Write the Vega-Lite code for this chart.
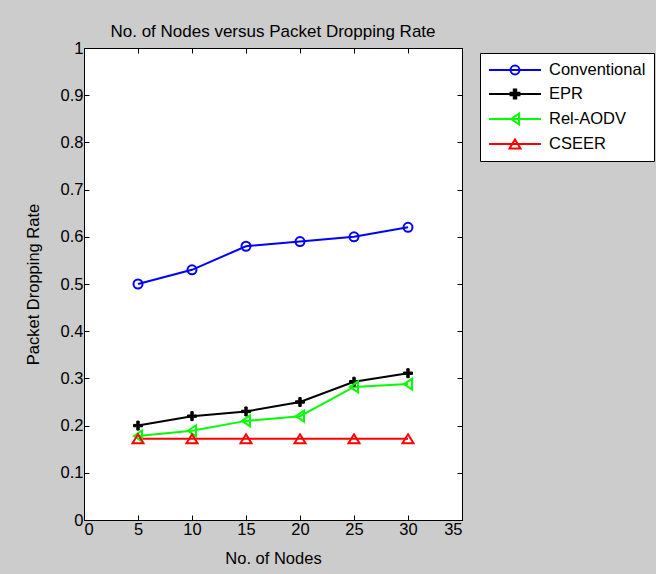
{
  "$schema": "https://vega.github.io/schema/vega-lite/v6.json",
  "width": 378,
  "height": 472,
  "autosize": {"type": "none"},
  "padding": {"left": 84, "top": 48, "right": 194, "bottom": 54},
  "background": "#cccccc",
  "title": {"text": "No. of Nodes versus Packet Dropping Rate", "fontSize": 17, "fontWeight": "normal", "font": "Liberation Sans", "color": "#000000", "offset": -1, "anchor": "middle"},
  "config": {
    "view": {"fill": "white", "stroke": "black", "strokeWidth": 1},
    "font": "Liberation Sans",
    "axis": {"labelFontSize": 16.5, "titleFontSize": 16.5, "titleFontWeight": "normal", "labelColor": "#000000", "titleColor": "#000000", "tickColor": "#000000", "grid": false, "domain": false, "tickSize": -5, "labelFont": "Liberation Sans", "titleFont": "Liberation Sans"}
  },
  "data": {"values": [
    {"n": 5, "series": "Conventional", "rate": 0.50},
    {"n": 10, "series": "Conventional", "rate": 0.53},
    {"n": 15, "series": "Conventional", "rate": 0.58},
    {"n": 20, "series": "Conventional", "rate": 0.59},
    {"n": 25, "series": "Conventional", "rate": 0.60},
    {"n": 30, "series": "Conventional", "rate": 0.62},
    {"n": 5, "series": "EPR", "rate": 0.20},
    {"n": 10, "series": "EPR", "rate": 0.22},
    {"n": 15, "series": "EPR", "rate": 0.23},
    {"n": 20, "series": "EPR", "rate": 0.25},
    {"n": 25, "series": "EPR", "rate": 0.293},
    {"n": 30, "series": "EPR", "rate": 0.311},
    {"n": 5, "series": "Rel-AODV", "rate": 0.178},
    {"n": 10, "series": "Rel-AODV", "rate": 0.189},
    {"n": 15, "series": "Rel-AODV", "rate": 0.21},
    {"n": 20, "series": "Rel-AODV", "rate": 0.22},
    {"n": 25, "series": "Rel-AODV", "rate": 0.282},
    {"n": 30, "series": "Rel-AODV", "rate": 0.288},
    {"n": 5, "series": "CSEER", "rate": 0.172},
    {"n": 10, "series": "CSEER", "rate": 0.172},
    {"n": 15, "series": "CSEER", "rate": 0.172},
    {"n": 20, "series": "CSEER", "rate": 0.172},
    {"n": 25, "series": "CSEER", "rate": 0.172},
    {"n": 30, "series": "CSEER", "rate": 0.172}
  ]},
  "layer": [
    {
      "mark": {"type": "line", "strokeWidth": 2},
      "encoding": {
        "x": {"field": "n", "type": "quantitative", "scale": {"domain": [0, 35], "nice": false, "zero": false}, "axis": {"orient": "bottom", "values": [0, 5, 10, 15, 20, 25, 30, 35], "title": "No. of Nodes", "labelPadding": 6, "titlePadding": 13}},
        "y": {"field": "rate", "type": "quantitative", "scale": {"domain": [0, 1], "nice": false, "zero": false}, "axis": {"orient": "left", "values": [0, 0.1, 0.2, 0.3, 0.4, 0.5, 0.6, 0.7, 0.8, 0.9, 1], "format": "~g", "title": "Packet Dropping Rate", "labelPadding": 6, "titlePadding": 19}},
        "color": {
          "field": "series", "type": "nominal",
          "scale": {"domain": ["Conventional", "EPR", "Rel-AODV", "CSEER"], "range": ["#0000ff", "#000000", "#00ff00", "#ff0000"]},
          "legend": {
            "title": null, "orient": "none", "legendX": 396, "legendY": 5,
            "fillColor": "white", "strokeColor": "black", "padding": 8,
            "symbolSize": 256, "symbolStrokeWidth": 2, "symbolOffset": 18,
            "labelFontSize": 16.5, "labelFont": "Liberation Sans", "labelColor": "#000000", "labelOffset": 25, "rowPadding": 6,
            "encode": {"symbols": {"update": {
              "shape": {"signal": "datum.value === 'Conventional' ? 'M-3.25,0H3.25M-0.56,0A0.56,0.56 0 1,0 0.56,0A0.56,0.56 0 1,0 -0.56,0Z' : datum.value === 'EPR' ? 'M-3.25,0H3.25M-0.56,-0.15H-0.15V-0.56H0.15V-0.15H0.56V0.15H0.15V0.56H-0.15V0.15H-0.56Z' : datum.value === 'Rel-AODV' ? 'M-3.25,0H3.25M-0.5,0L0.5,-0.68L0.5,0.68Z' : 'M-3.25,0H3.25M0,-0.56L0.68,0.56L-0.68,0.56Z'"},
              "fill": {"signal": "datum.value === 'EPR' ? 'black' : 'transparent'"},
              "stroke": {"scale": "color", "field": "value"},
              "strokeWidth": {"value": 2},
              "opacity": {"value": 1}
            }}}
          }
        }
      }
    },
    {
      "transform": [{"filter": "datum.series === 'Conventional'"}],
      "mark": {"type": "point", "size": 100, "strokeWidth": 2, "opacity": 1, "filled": false, "color": "#0000ff", "shape": "M-0.9,0A0.9,0.9 0 1,0 0.9,0A0.9,0.9 0 1,0 -0.9,0Z"},
      "encoding": {
        "x": {"field": "n", "type": "quantitative", "axis": {"orient": "top", "values": [0, 5, 10, 15, 20, 25, 30, 35], "labels": false, "title": null}},
        "y": {"field": "rate", "type": "quantitative", "axis": {"orient": "right", "values": [0, 0.1, 0.2, 0.3, 0.4, 0.5, 0.6, 0.7, 0.8, 0.9, 1], "labels": false, "title": null}}
      }
    },
    {
      "transform": [{"filter": "datum.series === 'EPR'"}],
      "mark": {"type": "point", "size": 100, "strokeWidth": 1, "opacity": 1, "filled": true, "color": "#000000", "stroke": "#000000", "shape": "M-0.9,-0.24H-0.24V-0.9H0.24V-0.24H0.9V0.24H0.24V0.9H-0.24V0.24H-0.9Z"},
      "encoding": {
        "x": {"field": "n", "type": "quantitative", "axis": null},
        "y": {"field": "rate", "type": "quantitative", "axis": null}
      }
    },
    {
      "transform": [{"filter": "datum.series === 'Rel-AODV'"}],
      "mark": {"type": "point", "size": 100, "strokeWidth": 2, "opacity": 1, "filled": false, "color": "#00ff00", "shape": "M-0.8,0L0.8,-1.1L0.8,1.1Z"},
      "encoding": {
        "x": {"field": "n", "type": "quantitative", "axis": null},
        "y": {"field": "rate", "type": "quantitative", "axis": null}
      }
    },
    {
      "transform": [{"filter": "datum.series === 'CSEER'"}],
      "mark": {"type": "point", "size": 100, "strokeWidth": 2, "opacity": 1, "filled": false, "color": "#ff0000", "shape": "M0,-0.9L1.1,0.9L-1.1,0.9Z"},
      "encoding": {
        "x": {"field": "n", "type": "quantitative", "axis": null},
        "y": {"field": "rate", "type": "quantitative", "axis": null}
      }
    }
  ],
  "resolve": {"axis": {"x": "independent", "y": "independent"}}
}
